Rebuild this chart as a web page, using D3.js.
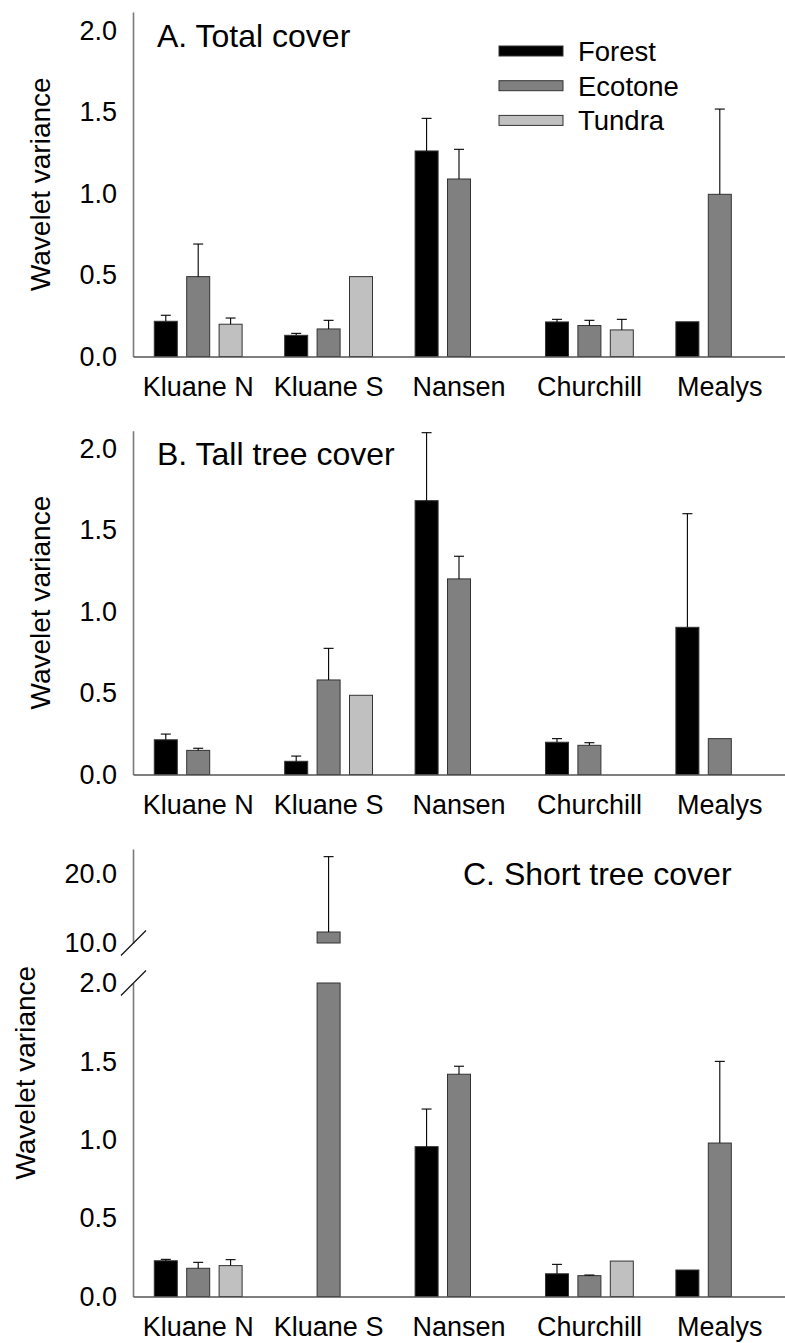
<!DOCTYPE html>
<html>
<head>
<meta charset="utf-8">
<script src="https://cdn.jsdelivr.net/npm/d3@7"></script>
<style>
  body { margin: 0; background: #fff; }
  svg { display: block; font-family: "Liberation Sans", Arial, sans-serif; }
</style>
</head>
<body>
<div id="chart"></div>
<script>
// Wavelet variance by site and zone, three panels

var sites = ['Kluane N', 'Kluane S', 'Nansen', 'Churchill', 'Mealys'];
var zones = ['Forest', 'Ecotone', 'Tundra'];

// A. Total cover (null = no bar / no error bar)
var totalForest    = [0.216, 0.130, 1.261, 0.212, 0.213];
var totalForestSE  = [0.037, 0.012, 0.200, 0.016, null];
var totalEcotone   = [0.490, 0.169, 1.089, 0.190, 0.995];
var totalEcotoneSE = [0.200, 0.053, 0.182, 0.032, 0.523];
var totalTundra    = [0.198, 0.490, null, 0.163, null];
var totalTundraSE  = [0.038, null, null, 0.065, null];

// B. Tall tree cover
var tallForest    = [0.213, 0.081, 1.680, 0.198, 0.903];
var tallForestSE  = [0.035, 0.032, 0.417, 0.022, 0.697];
var tallEcotone   = [0.148, 0.580, 1.200, 0.179, 0.220];
var tallEcotoneSE = [0.013, 0.194, 0.139, 0.016, null];
var tallTundra    = [null, 0.486, null, null, null];
var tallTundraSE  = [null, null, null, null, null];

// C. Short tree cover (broken axis between 2 and 10)
var shortForest    = [0.228, null, 0.956, 0.145, 0.169];
var shortForestSE  = [0.009, null, 0.240, 0.060, null];
var shortEcotone   = [0.180, 11.58, 1.418, 0.133, 0.979];
var shortEcotoneSE = [0.038, 10.82, 0.051, 0.004, 0.521];
var shortTundra    = [0.197, null, null, 0.226, null];
var shortTundraSE  = [0.038, null, null, null, null];

var lowTicks = [0, 0.5, 1.0, 1.5, 2.0];
var highTicks = [10, 20];

var width = 785, height = 1343;
var axisX = 133;
var fontSize = 27;
var fills = { Forest: '#000000', Ecotone: '#808080', Tundra: '#c0c0c0' };

var svg = d3.select('#chart').append('svg')
	.attr('width', width)
	.attr('height', height);

var x0 = d3.scaleBand().domain(sites).range([axisX, width]).paddingInner(0).paddingOuter(0);
var x1 = d3.scaleBand().domain(zones).range([0, x0.bandwidth()]).paddingInner(0.29).paddingOuter(0.657);

function rows(f, fse, e, ese, t, tse) {
	var out = [];
	sites.forEach(function(s, i){
		out.push({site: s, zone: 'Forest', v: f[i], se: fse[i]});
		out.push({site: s, zone: 'Ecotone', v: e[i], se: ese[i]});
		out.push({site: s, zone: 'Tundra', v: t[i], se: tse[i]});
	});
	return out.filter(function(d){ return d.v != null; });
}

var panels = [
	{ title: 'A. Total cover', top: 12, base: 356.5, tx: 157, ty: 46.7, labelX: 50, legend: true,
	  data: rows(totalForest, totalForestSE, totalEcotone, totalEcotoneSE, totalTundra, totalTundraSE) },
	{ title: 'B. Tall tree cover', top: 430.7, base: 774.5, tx: 157, ty: 465, labelX: 50,
	  data: rows(tallForest, tallForestSE, tallEcotone, tallEcotoneSE, tallTundra, tallTundraSE) },
	{ title: 'C. Short tree cover', top: 849, base: 1296.5, tx: 463, ty: 885, labelX: 35, broken: true,
	  data: rows(shortForest, shortForestSE, shortEcotone, shortEcotoneSE, shortTundra, shortTundraSE) }
];

panels.forEach(function(p){
	var g = svg.append('g');
	var yLow, yHigh, yOf;

	if (!p.broken) {
		var pxPerUnit = 163;
		yLow = d3.scaleLinear().domain([0, (p.base - p.top) / pxPerUnit]).range([p.base, p.top]);
		yOf = yLow;
	} else {
		yLow = d3.scaleLinear().domain([0, 2]).range([p.base, 983]);
		yHigh = d3.scaleLinear().domain([10, 23.5]).range([943, p.top]);
		yOf = function(v){ return v <= 2 ? yLow(v) : yHigh(v); };
	}

	// y axis
	var ax = g.append('g')
		.attr('transform', 'translate(' + axisX + ',0)')
		.call(d3.axisLeft(yLow).tickValues(lowTicks).tickSize(0).tickPadding(16).tickFormat(d3.format('.1f')));
	if (p.broken) {
		var ax2 = g.append('g')
			.attr('transform', 'translate(' + axisX + ',0)')
			.call(d3.axisLeft(yHigh).tickValues(highTicks).tickSize(0).tickPadding(16).tickFormat(d3.format('.1f')));
		ax = g.selectAll('g');
	}
	g.selectAll('.domain').attr('stroke', '#7a7a7a').attr('stroke-width', 1.6);
	g.selectAll('.tick text').attr('font-size', fontSize).attr('fill', '#000')
		.attr('font-family', '"Liberation Sans", Arial, sans-serif');

	// axis break marks
	if (p.broken) {
		[yHigh(10), yLow(2)].forEach(function(yy){
			g.append('line')
				.attr('x1', axisX - 12).attr('y1', yy + 12.5)
				.attr('x2', axisX + 13).attr('y2', yy - 12.5)
				.attr('stroke', '#111').attr('stroke-width', 1.3);
		});
	}

	// bars
	var bars = g.append('g').selectAll('g.bar').data(p.data).enter().append('g');
	bars.each(function(d){
		var sel = d3.select(this);
		var bx = x0(d.site) + x1(d.zone);
		if (p.broken && d.v > 2) {
			sel.append('rect')
				.attr('x', bx).attr('width', x1.bandwidth())
				.attr('y', yLow(2)).attr('height', p.base - yLow(2))
				.attr('fill', fills[d.zone]).attr('stroke', '#333').attr('stroke-width', 1);
			sel.append('rect')
				.attr('x', bx).attr('width', x1.bandwidth())
				.attr('y', yHigh(d.v)).attr('height', yHigh(10) - yHigh(d.v))
				.attr('fill', fills[d.zone]).attr('stroke', '#333').attr('stroke-width', 1);
		} else {
			sel.append('rect')
				.attr('x', bx).attr('width', x1.bandwidth())
				.attr('y', yOf(d.v)).attr('height', p.base - yOf(d.v))
				.attr('fill', fills[d.zone]).attr('stroke', '#333').attr('stroke-width', 1);
		}
		if (d.se != null) {
			var cx = bx + x1.bandwidth() / 2;
			var yTop = yOf(d.v + d.se);
			sel.append('line')
				.attr('x1', cx).attr('x2', cx)
				.attr('y1', yOf(d.v)).attr('y2', yTop)
				.attr('stroke', '#000').attr('stroke-width', 1.1);
			sel.append('line')
				.attr('x1', cx - 5).attr('x2', cx + 5)
				.attr('y1', yTop).attr('y2', yTop)
				.attr('stroke', '#000').attr('stroke-width', 1.1);
		}
	});

	// x axis
	var xa = g.append('g')
		.attr('transform', 'translate(0,' + p.base + ')')
		.call(d3.axisBottom(x0).tickSize(0).tickPadding(20));
	xa.select('.domain').attr('stroke', '#555').attr('stroke-width', 1.6);
	xa.selectAll('.tick text').attr('font-size', fontSize).attr('fill', '#000')
		.attr('font-family', '"Liberation Sans", Arial, sans-serif');

	// y label
	g.append('text')
		.attr('transform', 'translate(' + p.labelX + ',' + ((p.top + p.base) / 2) + ') rotate(-90)')
		.attr('text-anchor', 'middle')
		.attr('font-size', 28)
		.text('Wavelet variance');

	// title
	g.append('text')
		.attr('x', p.tx).attr('y', p.ty)
		.attr('font-size', 32)
		.text(p.title);

	// legend
	if (p.legend) {
		var lg = g.append('g').attr('transform', 'translate(499,51)');
		var item = lg.selectAll('g').data(zones).enter().append('g')
			.attr('transform', function(d, i){ return 'translate(0,' + (i * 34.7) + ')'; });
		item.append('rect')
			.attr('x', 0).attr('y', -5).attr('width', 64).attr('height', 10)
			.attr('fill', function(d){ return fills[d]; })
			.attr('stroke', '#333').attr('stroke-width', 1);
		item.append('text')
			.attr('x', 79).attr('dy', '0.36em')
			.attr('font-size', 27.5)
			.text(function(d){ return d; });
	}
});
</script>
</body>
</html>
